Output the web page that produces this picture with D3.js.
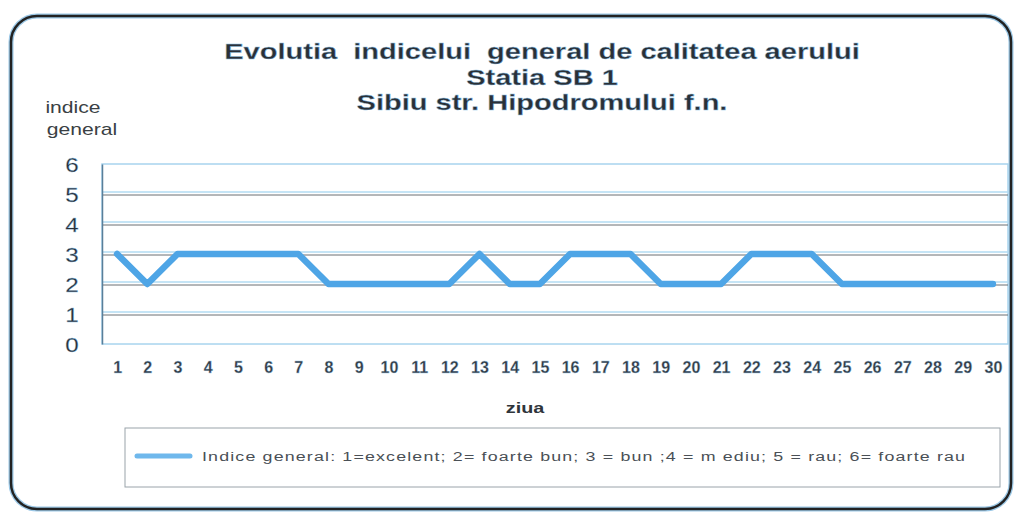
<!DOCTYPE html>
<html>
<head>
<meta charset="utf-8">
<script src="https://cdn.jsdelivr.net/npm/d3@7"></script>
<style>
  body { margin: 0; background: #fff; }
  svg { display: block; font-family: "Liberation Sans", Arial, sans-serif; }
</style>
</head>
<body>
<div class="canvas"></div>
<script>
'use strict';

const days = d3.range(1, 31).map(String);
const indexValues = [3, 2, 3, 3, 3, 3, 3, 2, 2, 2, 2, 2, 3, 2, 2, 3, 3, 3, 2, 2, 2, 3, 3, 3, 2, 2, 2, 2, 2, 2];
const yTicks = [0, 1, 2, 3, 4, 5, 6];
const titleLines = ['Evolutia  indicelui  general de calitatea aerului', 'Statia SB 1', 'Sibiu str. Hipodromului f.n.'];
const yTitleLines = ['indice', 'general'];
const legendLabel = 'Indice general: 1=excelent; 2= foarte bun; 3 = bun ;4 = m ediu; 5 = rau; 6= foarte rau';

const dims = { width: 1018, height: 515 };
const plot = { left: 102, right: 1008, top: 164, bottom: 344 };
// the scanned chart is stretched sideways, so text gets a horizontal scale
const stretch = 1.32;

const svg = d3.select('.canvas')
    .append('svg')
    .attr('width', dims.width)
    .attr('height', dims.height);

// outer frame
svg.append('rect')
    .attr('x', 11).attr('y', 16)
    .attr('width', 1000).attr('height', 493)
    .attr('rx', 26).attr('ry', 26)
    .attr('fill', '#fff')
    .attr('stroke', '#9cc8e6')
    .attr('stroke-width', 5);
svg.append('rect')
    .attr('x', 11).attr('y', 16)
    .attr('width', 1000).attr('height', 493)
    .attr('rx', 26).attr('ry', 26)
    .attr('fill', 'none')
    .attr('stroke', '#222')
    .attr('stroke-width', 2.5);

// title
svg.append('g').selectAll('text')
    .data(titleLines)
    .enter().append('text')
    .attr('transform', (d, i) => `translate(542,${59 + i * 25.5}) scale(${stretch},1)`)
    .attr('text-anchor', 'middle')
    .attr('font-size', 22)
    .attr('font-weight', 'bold')
    .attr('fill', '#2a3036')
    .attr('stroke', '#8fc3e6')
    .attr('stroke-width', 0.4)
    .style('white-space', 'pre')
    .text(d => d);

// y axis title
svg.append('g').selectAll('text')
    .data(yTitleLines)
    .enter().append('text')
    .attr('transform', (d, i) => `translate(${i ? 82 : 73},${113 + i * 22}) scale(${stretch},1)`)
    .attr('text-anchor', 'middle')
    .attr('font-size', 16).attr('fill', '#3a3f44')
    .text(d => d);

const x = d3.scalePoint()
    .domain(days)
    .range([plot.left, plot.right])
    .padding(0.5);

const y = d3.scaleLinear()
    .domain([0, 6])
    .range([plot.bottom, plot.top]);

// plot frame
svg.append('rect')
    .attr('x', plot.left).attr('y', plot.top)
    .attr('width', plot.right - plot.left)
    .attr('height', plot.bottom - plot.top)
    .attr('fill', 'none')
    .attr('stroke', '#a8d4ee')
    .attr('stroke-width', 1.5);

// gridlines: light blue with dark line just under it
const gridTicks = yTicks.filter(d => d > 0 && d < 6);
const grid = svg.append('g');
grid.selectAll('line.blue')
    .data(gridTicks)
    .enter().append('line')
    .attr('class', 'blue')
    .attr('x1', plot.left).attr('x2', plot.right)
    .attr('y1', d => y(d) - 2).attr('y2', d => y(d) - 2)
    .attr('stroke', '#b2dbf2').attr('stroke-width', 1.5);
grid.selectAll('line.dark')
    .data(gridTicks)
    .enter().append('line')
    .attr('class', 'dark')
    .attr('x1', plot.left).attr('x2', plot.right)
    .attr('y1', d => y(d) + 1).attr('y2', d => y(d) + 1)
    .attr('stroke', '#6a6e72').attr('stroke-width', 1);

// y axis
const yAxis = svg.append('g')
    .attr('transform', `translate(${plot.left},0)`)
    .call(d3.axisLeft(y).tickValues(yTicks).tickFormat(d3.format('d')).tickSize(0));
yAxis.select('.domain').attr('stroke', '#5a7f99').attr('stroke-width', 1.5);
yAxis.selectAll('.tick text')
    .attr('x', null).attr('dy', null)
    .attr('text-anchor', 'middle')
    .attr('transform', 'translate(-30,7) scale(1.15,1)')
    .attr('font-size', 21)
    .attr('fill', '#2a3036')
    .attr('stroke', '#8fc3e6').attr('stroke-width', 0.3)
    .attr('font-family', '"Liberation Sans", Arial, sans-serif');

// x axis
const xAxis = svg.append('g')
    .attr('transform', `translate(0,${plot.bottom})`)
    .call(d3.axisBottom(x).tickSize(0).tickPadding(18));
xAxis.select('.domain').remove();
xAxis.selectAll('text')
    .attr('font-size', 16)
    .attr('font-weight', 'bold')
    .attr('fill', '#353b41')
    .attr('stroke', '#9ccbea').attr('stroke-width', 0.3)
    .attr('font-family', '"Liberation Sans", Arial, sans-serif');

svg.append('text')
    .attr('transform', `translate(525,413) scale(${stretch},1)`)
    .attr('text-anchor', 'middle')
    .attr('font-size', 15).attr('font-weight', 'bold')
    .attr('fill', '#2f353b')
    .text('ziua');

// series line
const line = d3.line()
    .x((d, i) => x(days[i]))
    .y(d => y(d));

svg.append('path')
    .datum(indexValues)
    .attr('d', line)
    .attr('fill', 'none')
    .attr('stroke', '#4ea5e6')
    .attr('stroke-width', 6.5)
    .attr('stroke-linejoin', 'round')
    .attr('stroke-linecap', 'round');

// legend
const legend = svg.append('g');
legend.append('rect')
    .attr('x', 125).attr('y', 428)
    .attr('width', 875).attr('height', 59)
    .attr('fill', '#fff')
    .attr('stroke', '#9aa3aa')
    .attr('stroke-width', 1);
legend.append('line')
    .attr('x1', 137).attr('x2', 190)
    .attr('y1', 456).attr('y2', 456)
    .attr('stroke', '#6fb8ec')
    .attr('stroke-width', 5)
    .attr('stroke-linecap', 'round');
legend.append('text')
    .attr('transform', `translate(202,461) scale(${stretch},1)`)
    .attr('font-size', 13.5)
    .attr('letter-spacing', 0.88)
    .attr('fill', '#4a5056')
    .style('white-space', 'pre')
    .text(legendLabel);
</script>
</body>
</html>
